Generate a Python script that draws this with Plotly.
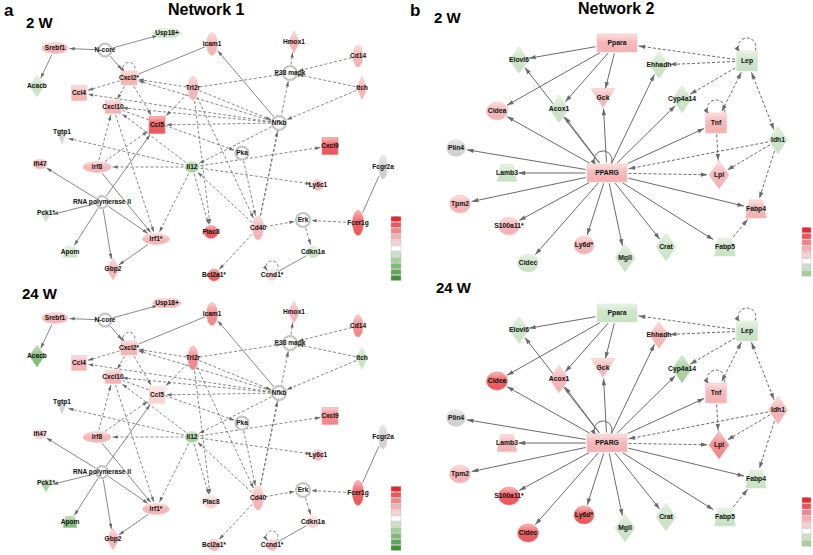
import math
import plotly.graph_objects as go

N1_GENES = ["Srebf1", "N-core", "Usp18+", "Acacb", "Cxcl2*", "Ccl4", "Cxcl10", "Ccl5", "Trl2r", "Icam1",
            "Hmox1", "Cd14", "P38 mapk", "Itch", "Nfkb", "Tgtp1", "Ifi47", "Irf8", "Il12", "Pka",
            "Cxcl9", "Ly6c1", "Fcgr2a", "RNA polymerase II", "Pck1*", "Irf1*", "Apom", "Gbp2", "Plac8", "Cd40",
            "Erk", "Fcer1g", "Cdkn1a", "Bcl2a1*", "Ccnd1*"]
N1_FC_2W = [2, None, -1, -1, 2, 2, 2, 4, 2, 2,
            2, 2, None, 2, None, 0, 2, 2, -2, None,
            4, 2, 0, None, -1, 2, -1, 2, 4, 2,
            None, 4, -1, 4, 1]
N1_FC_24W = [2, None, 2, -3, 2, 2, 2, 1, 3, 3,
             2, 3, None, -1, None, 0, 1, 2, -2, None,
             3, 2, 0, None, -2, 2, -3, 2, 1, 2,
             None, 4, 1, 2, 2]

N2_GENES = ["Ppara", "Elovl6", "Ehhadh", "Lep", "Cidea", "Acox1", "Gck", "Cyp4a14", "Tnf", "Idh1",
            "Plin4", "Lamb3", "PPARG", "Lpl", "Tpm2", "Fabp4", "S100a11*", "Ly6d*", "Cidec", "Mgll",
            "Crat", "Fabp5"]
N2_FC_2W = [2, -1, -1, -1, 2, -1, 2, -1, 2, -1,
            0, -1, 2, 2, 2, 2, 2, 2, -1, -1,
            -1, -1]
N2_FC_24W = [-1, -1, 2, -1, 4, 2, 2, -2, 2, 2,
             0, 2, 2, 3, 2, -1, 4, 4, 4, -1,
             -1, -1]

# edges: (source, target, 's'olid / 'd'ashed, arrow: 0 none, 1 at target, 2 both)
N1_EDGES = [
    ("N-core", "Srebf1", "s", 1), ("N-core", "Usp18+", "s", 1), ("N-core", "Cxcl2*", "s", 1),
    ("Srebf1", "Acacb", "s", 1), ("Cxcl2*", "Icam1", "s", 0), ("Nfkb", "Icam1", "s", 1),
    ("RNA polymerase II", "Ifi47", "s", 1), ("RNA polymerase II", "Pck1*", "s", 1),
    ("RNA polymerase II", "Apom", "s", 1), ("RNA polymerase II", "Gbp2", "s", 1),
    ("RNA polymerase II", "Irf1*", "s", 1), ("RNA polymerase II", "Ccl5", "s", 1),
    ("Irf8", "Irf1*", "s", 1), ("Irf1*", "Gbp2", "s", 1), ("Fcgr2a", "Fcer1g", "s", 0),
    ("Cdkn1a", "Ccnd1*", "s", 0),
    ("Cxcl2*", "Cxcl2*", "d", 1), ("Ccnd1*", "Ccnd1*", "d", 1),
    ("Cxcl2*", "Ccl4", "d", 1), ("Cxcl2*", "Cxcl10", "d", 1), ("Cxcl2*", "Ccl5", "d", 1),
    ("Trl2r", "Cxcl2*", "d", 1), ("Trl2r", "Ccl5", "d", 1), ("Trl2r", "P38 mapk", "d", 1),
    ("Trl2r", "Nfkb", "d", 1), ("Trl2r", "Plac8", "d", 1), ("Trl2r", "Cd40", "d", 1),
    ("Cd14", "P38 mapk", "d", 1), ("Itch", "P38 mapk", "d", 1), ("P38 mapk", "Hmox1", "d", 1),
    ("Itch", "Nfkb", "d", 1), ("Nfkb", "Cxcl2*", "d", 1), ("Nfkb", "Cxcl10", "d", 1),
    ("Nfkb", "Ccl5", "d", 1), ("Nfkb", "Il12", "d", 1), ("Nfkb", "Ccl4", "d", 1),
    ("Cxcl10", "Pka", "d", 1), ("Pka", "Cd40", "d", 1),
    ("Il12", "Tgtp1", "d", 1), ("Il12", "Irf8", "d", 1), ("Il12", "Cxcl9", "d", 1),
    ("Il12", "Ly6c1", "d", 1), ("Il12", "Irf1*", "d", 1), ("Il12", "Plac8", "d", 1),
    ("Il12", "Cxcl10", "d", 1), ("Cd40", "Il12", "d", 1), ("Cd40", "Bcl2a1*", "d", 1),
    ("Cd40", "Erk", "d", 1), ("Cd40", "P38 mapk", "d", 1), ("Cd40", "Nfkb", "d", 1),
    ("Fcer1g", "Erk", "d", 1), ("Erk", "Cdkn1a", "d", 1), ("Irf8", "Cxcl10", "d", 1),
    ("Irf8", "Ccl5", "d", 1), ("Cxcl10", "Irf1*", "d", 1),
]
N2_EDGES = [
    ("Ppara", "Elovl6", "s", 1), ("Ppara", "Cidea", "s", 1), ("Ppara", "Acox1", "s", 1),
    ("Ppara", "Gck", "s", 1),
    ("PPARG", "Plin4", "s", 1), ("PPARG", "Lamb3", "s", 1), ("PPARG", "Tpm2", "s", 1),
    ("PPARG", "S100a11*", "s", 1), ("PPARG", "Cidec", "s", 1), ("PPARG", "Ly6d*", "s", 1),
    ("PPARG", "Mgll", "s", 1), ("PPARG", "Crat", "s", 1), ("PPARG", "Fabp5", "s", 1),
    ("PPARG", "Fabp4", "s", 1), ("PPARG", "Tnf", "s", 1), ("PPARG", "Cyp4a14", "s", 1),
    ("PPARG", "Ehhadh", "s", 1), ("PPARG", "Gck", "s", 1), ("PPARG", "Acox1", "s", 1),
    ("PPARG", "Elovl6", "s", 1), ("PPARG", "Cidea", "s", 1), ("PPARG", "PPARG", "s", 1),
    ("Lep", "Ppara", "d", 1), ("Lep", "Ehhadh", "d", 1), ("Lep", "Cyp4a14", "d", 1),
    ("Lep", "Tnf", "d", 2), ("Lep", "Idh1", "d", 2), ("Lep", "Lep", "d", 1),
    ("Tnf", "Tnf", "d", 1), ("Tnf", "Lpl", "d", 1), ("Idh1", "PPARG", "d", 1),
    ("Idh1", "Lpl", "d", 1), ("Idh1", "Fabp4", "d", 1), ("Fabp5", "Fabp4", "d", 1),
    ("PPARG", "Lpl", "d", 1),
]

LEGEND1_LEVELS = [5, 4, 3, 2, 1, 0, -1, -2, -3, -4, -5]
LEGEND2_LEVELS = [5, 4, 3, 2, 1, 0, -1, -2]
TITLES = ["a", "Network 1", "2 W", "24 W", "b", "Network 2", "2 W", "24 W"]

# ---------------- network layout (node placement, shape, size in px) ----------------
N1_LAYOUT = {
    "Srebf1": (55, 48, "ellipse", 26, 11), "N-core": (105, 50, "complex", 13, 13),
    "Usp18+": (167, 33, "hex", 30, 9), "Acacb": (37, 86, "diamond", 15, 22),
    "Cxcl2*": (129, 78, "square", 16, 14), "Ccl4": (79, 93, "square", 15, 15),
    "Cxcl10": (113, 107, "square", 16, 13), "Ccl5": (157, 125, "square", 16, 17),
    "Trl2r": (193, 88, "ellipse", 10, 24), "Icam1": (212, 44, "ellipse", 11, 23),
    "Hmox1": (294, 42, "diamond", 12, 22), "Cd14": (358, 56, "ellipse", 10, 22),
    "P38 mapk": (290, 73, "complex", 14, 14), "Itch": (362, 88, "diamond", 11, 23),
    "Nfkb": (279, 123, "complex", 14, 14), "Tgtp1": (62, 137, "tridown", 11, 14),
    "Ifi47": (40, 164, "ellipse", 14, 10), "Irf8": (97, 167, "ellipse", 28, 11),
    "Il12": (192, 167, "ellipse", 14, 11), "Pka": (242, 153, "complex", 13, 13),
    "Cxcl9": (330, 146, "square", 16, 17), "Ly6c1": (318, 185, "ellipse", 11, 11),
    "Fcgr2a": (383, 167, "ellipse", 9, 24), "RNA polymerase II": (102, 202, "complex", 12, 12),
    "Pck1*": (46, 216, "tridown", 14, 12), "Irf1*": (156, 239, "ellipse", 27, 11),
    "Apom": (70, 252, "trap", 14, 11), "Gbp2": (113, 269, "diamond", 13, 22),
    "Plac8": (211, 232, "ellipse", 14, 13), "Cd40": (258, 228, "ellipse", 11, 24),
    "Erk": (303, 220, "complex", 14, 14), "Fcer1g": (358, 223, "ellipse", 11, 25),
    "Cdkn1a": (313, 252, "ellipse", 12, 12), "Bcl2a1*": (214, 275, "ellipse", 12, 12),
    "Ccnd1*": (272, 275, "ellipse", 11, 11),
}
N2_LAYOUT = {
    "Ppara": (617, 43, "rect", 40, 18), "Elovl6": (519, 60, "diamond", 19, 27),
    "Ehhadh": (659, 65, "diamond", 19, 27), "Lep": (747, 61, "square", 21, 20),
    "Cidea": (497, 111, "ellipse", 21, 18), "Acox1": (559, 109, "diamond", 19, 28),
    "Gck": (603, 98, "tridown", 24, 19), "Cyp4a14": (682, 99, "diamond", 19, 28),
    "Tnf": (716, 123, "square", 21, 20), "Idh1": (778, 140, "diamond", 19, 28),
    "Plin4": (456, 148, "ellipse", 19, 17), "Lamb3": (507, 173, "trap", 20, 17),
    "PPARG": (607, 173, "rect", 40, 18), "Lpl": (719, 175, "diamond", 20, 28),
    "Tpm2": (460, 204, "ellipse", 21, 18), "Fabp4": (756, 209, "trap", 21, 18),
    "S100a11*": (509, 226, "ellipse", 21, 18), "Ly6d*": (584, 245, "ellipse", 20, 18),
    "Cidec": (528, 263, "ellipse", 21, 18), "Mgll": (625, 258, "diamond", 20, 28),
    "Crat": (666, 247, "diamond", 20, 28), "Fabp5": (725, 247, "trap", 21, 18),
}
LABEL_SHIFT = {"Tgtp1": -5, "Pck1*": -3}
PANEL_DY = [0, 270]

NODE_COLORS = {5: "#e8262b", 4: "#ec5457", 3: "#f08587", 2: "#f4b1b2", 1: "#f8d2d3", 0: "#cfcfcf",
               -1: "#c9e2c4", -2: "#a3cf9b", -3: "#7fba75", -4: "#5fa655", -5: "#3f9236"}
LEG_COLORS = dict(NODE_COLORS)
LEG_COLORS[0] = "#ffffff"
EDGE_COL = "#6a6a6a"
FONT = "Liberation Sans, Arial, sans-serif"


def hex2rgb(c):
    c = c.lstrip("#")
    return tuple(int(c[i:i + 2], 16) for i in (0, 2, 4))


def blend(c, other, t):
    a, b = hex2rgb(c), hex2rgb(other)
    return "rgb(%d,%d,%d)" % tuple(round(a[i] * (1 - t) + b[i] * t) for i in range(3))


def outline(kind, cx, cy, w, h):
    a, b = w / 2, h / 2
    if kind in ("ellipse", "complex"):
        ts = [2 * math.pi * i / 48 for i in range(49)]
        return [cx + a * math.cos(t) for t in ts], [cy + b * math.sin(t) for t in ts]
    if kind == "diamond":
        pts = [(0, -b), (a, 0), (0, b), (-a, 0), (0, -b)]
    elif kind in ("square", "rect"):
        pts = [(-a, -b), (a, -b), (a, b), (-a, b), (-a, -b)]
    elif kind == "tridown":
        pts = [(-a, -b), (a, -b), (0, b), (-a, -b)]
    elif kind == "trap":
        pts = [(-a * 0.62, -b), (a * 0.62, -b), (a, b), (-a, b), (-a * 0.62, -b)]
    else:  # hex
        pts = [(-a, 0), (-a * 0.55, -b), (a * 0.55, -b), (a, 0), (a * 0.55, b), (-a * 0.55, b), (-a, 0)]
    return [cx + p[0] for p in pts], [cy + p[1] for p in pts]


def boundary(kind, w, h, ux, uy):
    a, b = w / 2, h / 2
    ux, uy = abs(ux), abs(uy)
    if kind in ("square", "rect", "trap"):
        return min(a / ux if ux > 1e-9 else 1e9, b / uy if uy > 1e-9 else 1e9)
    if kind in ("diamond", "tridown", "hex"):
        return 1 / (ux / a + uy / b)
    return a * b / math.sqrt((b * ux) ** 2 + (a * uy) ** 2)


fig = go.Figure()


def add_edges(edges, layout, dy, lw, asize, loop_r):
    sx, sy, dx_, dy_ = [], [], [], []
    ax, ay, ang = [], [], []
    for src, dst, style, arr in edges:
        X, Y = (sx, sy) if style == "s" else (dx_, dy_)
        x0, y0, k0, w0, h0 = layout[src]
        y0 += dy
        if src == dst:
            r = loop_r
            ccx, ccy = x0 + (0 if style == "d" else -4), y0 - h0 / 2 - r * 0.45
            ts = [math.radians(140 + 260 * i / 30) for i in range(31)]
            px = [ccx + r * math.cos(t) for t in ts]
            py = [ccy + r * math.sin(t) for t in ts]
            X += px + [None]
            Y += py + [None]
            ux, uy = px[0] - px[1], py[0] - py[1]
            ax.append(px[0]); ay.append(py[0]); ang.append(math.degrees(math.atan2(ux, -uy)))
            continue
        x1, y1, k1, w1, h1 = layout[dst]
        y1 += dy
        d = math.hypot(x1 - x0, y1 - y0)
        ux, uy = (x1 - x0) / d, (y1 - y0) / d
        r0 = boundary(k0, w0, h0, ux, uy) + 1.5
        r1 = boundary(k1, w1, h1, ux, uy) + 1.5
        p0 = (x0 + ux * r0, y0 + uy * r0)
        p1 = (x1 - ux * r1, y1 - uy * r1)
        X += [p0[0], p1[0], None]
        Y += [p0[1], p1[1], None]
        a = math.degrees(math.atan2(ux, -uy))
        if arr >= 1:
            ax.append(p1[0]); ay.append(p1[1]); ang.append(a)
        if arr == 2:
            ax.append(p0[0]); ay.append(p0[1]); ang.append(a + 180)
    fig.add_trace(go.Scatter(x=sx, y=sy, mode="lines", line=dict(color=EDGE_COL, width=lw),
                             hoverinfo="skip", showlegend=False))
    fig.add_trace(go.Scatter(x=dx_, y=dy_, mode="lines",
                             line=dict(color=EDGE_COL, width=lw, dash="3px,2px"),
                             hoverinfo="skip", showlegend=False))
    fig.add_trace(go.Scatter(x=ax, y=ay, mode="markers",
                             marker=dict(symbol="arrow", size=asize, angle=ang, color=EDGE_COL,
                                         line=dict(width=0)),
                             hoverinfo="skip", showlegend=False))


def add_nodes(genes, levels, layout, dy, fsize):
    lx, ly, lt = [], [], []
    for g, lev in zip(genes, levels):
        cx, cy, kind, w, h = layout[g]
        cy += dy
        xs, ys = outline(kind, cx, cy, w, h)
        if kind == "complex":
            fig.add_trace(go.Scatter(x=xs, y=ys, mode="lines", fill="toself", fillcolor="#ffffff",
                                     line=dict(color="#c4c4c4", width=2.2),
                                     hoverinfo="skip", showlegend=False))
        else:
            col = NODE_COLORS[lev]
            fig.add_trace(go.Scatter(
                x=xs, y=ys, mode="lines", fill="toself",
                line=dict(color=blend(col, "#ffffff", 0.25), width=0.6),
                fillgradient=dict(type="vertical", start=cy - h / 2, stop=cy + h / 2,
                                  colorscale=[[0, blend(col, "#ffffff", 0.6)],
                                              [0.45, blend(col, "#ffffff", 0.1)],
                                              [1, col]]),
                hoverinfo="skip", showlegend=False))
        lx.append(cx)
        ly.append(cy + LABEL_SHIFT.get(g, 0))
        lt.append("<b>%s</b>" % g)
    fig.add_trace(go.Scatter(x=lx, y=ly, mode="text", text=lt,
                             textfont=dict(family=FONT, size=fsize, color="#111111"),
                             hoverinfo="skip", showlegend=False))


def add_legend(levels, x0, x1, top, bh):
    for i, lev in enumerate(levels):
        y0 = top + i * bh
        fig.add_shape(type="rect", xref="x", yref="y", x0=x0, x1=x1, y0=y0 + 0.4, y1=y0 + bh - 0.4,
                      fillcolor=LEG_COLORS[lev], line=dict(color="#bdbdbd", width=0.5), layer="above")
    fig.add_trace(go.Scatter(x=[(x0 + x1) / 2] * len(levels),
                             y=[top + (i + 0.5) * bh for i in range(len(levels))],
                             mode="text", text=[str(v) for v in levels], cliponaxis=False,
                             textfont=dict(family=FONT, size=5, color="#222222"),
                             hoverinfo="skip", showlegend=False))


for p, dy in enumerate(PANEL_DY):
    add_edges(N1_EDGES, N1_LAYOUT, dy, 0.8, 5.5, 6)
    add_nodes(N1_GENES, N1_FC_2W if p == 0 else N1_FC_24W, N1_LAYOUT, dy, 6.6)
    add_legend(LEGEND1_LEVELS, 391, 401, 216 + dy, 5.9)
    add_edges(N2_EDGES, N2_LAYOUT, dy, 1.0, 7, 9)
    add_nodes(N2_GENES, N2_FC_2W if p == 0 else N2_FC_24W, N2_LAYOUT, dy, 6.8)
    add_legend(LEGEND2_LEVELS, 802, 811, 227 + dy, 6.2)

title_pos = [(9, 10, 17), (206, 9, 16), (40, 22, 15), (40, 293, 15),
             (415, 10, 17), (616, 8, 16), (448, 17, 15), (454, 287, 15)]
for t, (x, y, s) in zip(TITLES, title_pos):
    fig.add_annotation(x=x, y=y, xref="x", yref="y", text="<b>%s</b>" % t, showarrow=False,
                       font=dict(family=FONT, size=s, color="#000000"))

fig.update_layout(width=813, height=555, margin=dict(l=0, r=0, t=0, b=0),
                  paper_bgcolor="white", plot_bgcolor="white", showlegend=False,
                  xaxis=dict(range=[0, 813], visible=False, fixedrange=True),
                  yaxis=dict(range=[555, 0], visible=False, fixedrange=True))
fig.write_html("out.html", config={"displayModeBar": False, "staticPlot": True},
               post_script="document.body.style.margin='0';document.body.style.overflow='hidden';")
